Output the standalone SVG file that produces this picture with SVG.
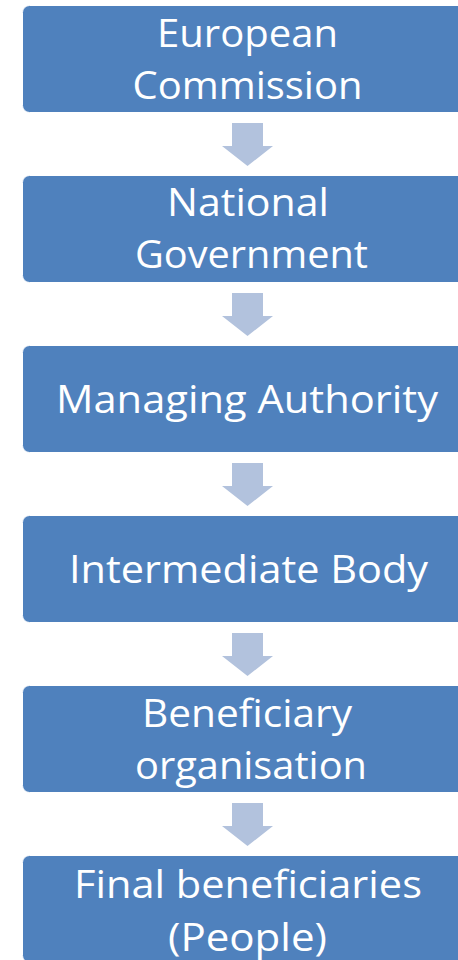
<svg xmlns="http://www.w3.org/2000/svg" width="458" height="960" viewBox="0 0 458 960">
  <defs>
    <style>
      .box { fill: #4F81BD; stroke: #FFFFFF; stroke-width: 1; }
      .lbl { fill: #FFFFFF; font-family: "Open Sans", "Noto Sans", "DejaVu Sans", sans-serif; font-size: 39px; text-anchor: middle; }
      .arrow { fill: #B2C2DD; }
    </style>
    <path id="down" class="arrow" d="M -15.5 0 H 15.5 V 23 H 25.5 L 0 43 L -25.5 23 H -15.5 Z"/>
  </defs>
  <rect width="458" height="960" fill="#FFFFFF"/>

  <!-- downward arrows between the levels -->
  <g id="connectors">
    <use href="#down" transform="translate(247.5 123)"/>
    <use href="#down" transform="translate(247.5 293)"/>
    <use href="#down" transform="translate(247.5 463)"/>
    <use href="#down" transform="translate(247.5 633)"/>
    <use href="#down" transform="translate(247.5 803)"/>
  </g>

  <g id="european-commission">
    <rect class="box" x="22.5" y="5.5" width="450" height="107" rx="7"/>
    <text class="lbl" x="247.5" y="47" textLength="181" lengthAdjust="spacingAndGlyphs">European</text>
    <text class="lbl" x="247.5" y="99" textLength="230" lengthAdjust="spacingAndGlyphs">Commission</text>
  </g>

  <g id="national-government">
    <rect class="box" x="22.5" y="175.5" width="450" height="107" rx="7"/>
    <text class="lbl" x="248" y="216" textLength="162" lengthAdjust="spacingAndGlyphs">National</text>
    <text class="lbl" x="251.5" y="268" textLength="233" lengthAdjust="spacingAndGlyphs">Government</text>
  </g>

  <g id="managing-authority">
    <rect class="box" x="22.5" y="345.5" width="450" height="107" rx="7"/>
    <text class="lbl" x="247" y="413" textLength="382" lengthAdjust="spacingAndGlyphs">Managing Authority</text>
  </g>

  <g id="intermediate-body">
    <rect class="box" x="22.5" y="515.5" width="450" height="107" rx="7"/>
    <text class="lbl" x="248.5" y="583" textLength="359" lengthAdjust="spacingAndGlyphs">Intermediate Body</text>
  </g>

  <g id="beneficiary-organisation">
    <rect class="box" x="22.5" y="685.5" width="450" height="107" rx="7"/>
    <text class="lbl" x="247" y="727" textLength="210" lengthAdjust="spacingAndGlyphs">Beneficiary</text>
    <text class="lbl" x="251" y="779" textLength="232" lengthAdjust="spacingAndGlyphs">organisation</text>
  </g>

  <g id="final-beneficiaries">
    <rect class="box" x="22.5" y="855.5" width="450" height="107" rx="7"/>
    <text class="lbl" x="248" y="898" textLength="348" lengthAdjust="spacingAndGlyphs">Final beneficiaries</text>
    <text class="lbl" x="247.5" y="951" textLength="159" lengthAdjust="spacingAndGlyphs">(People)</text>
  </g>
</svg>
